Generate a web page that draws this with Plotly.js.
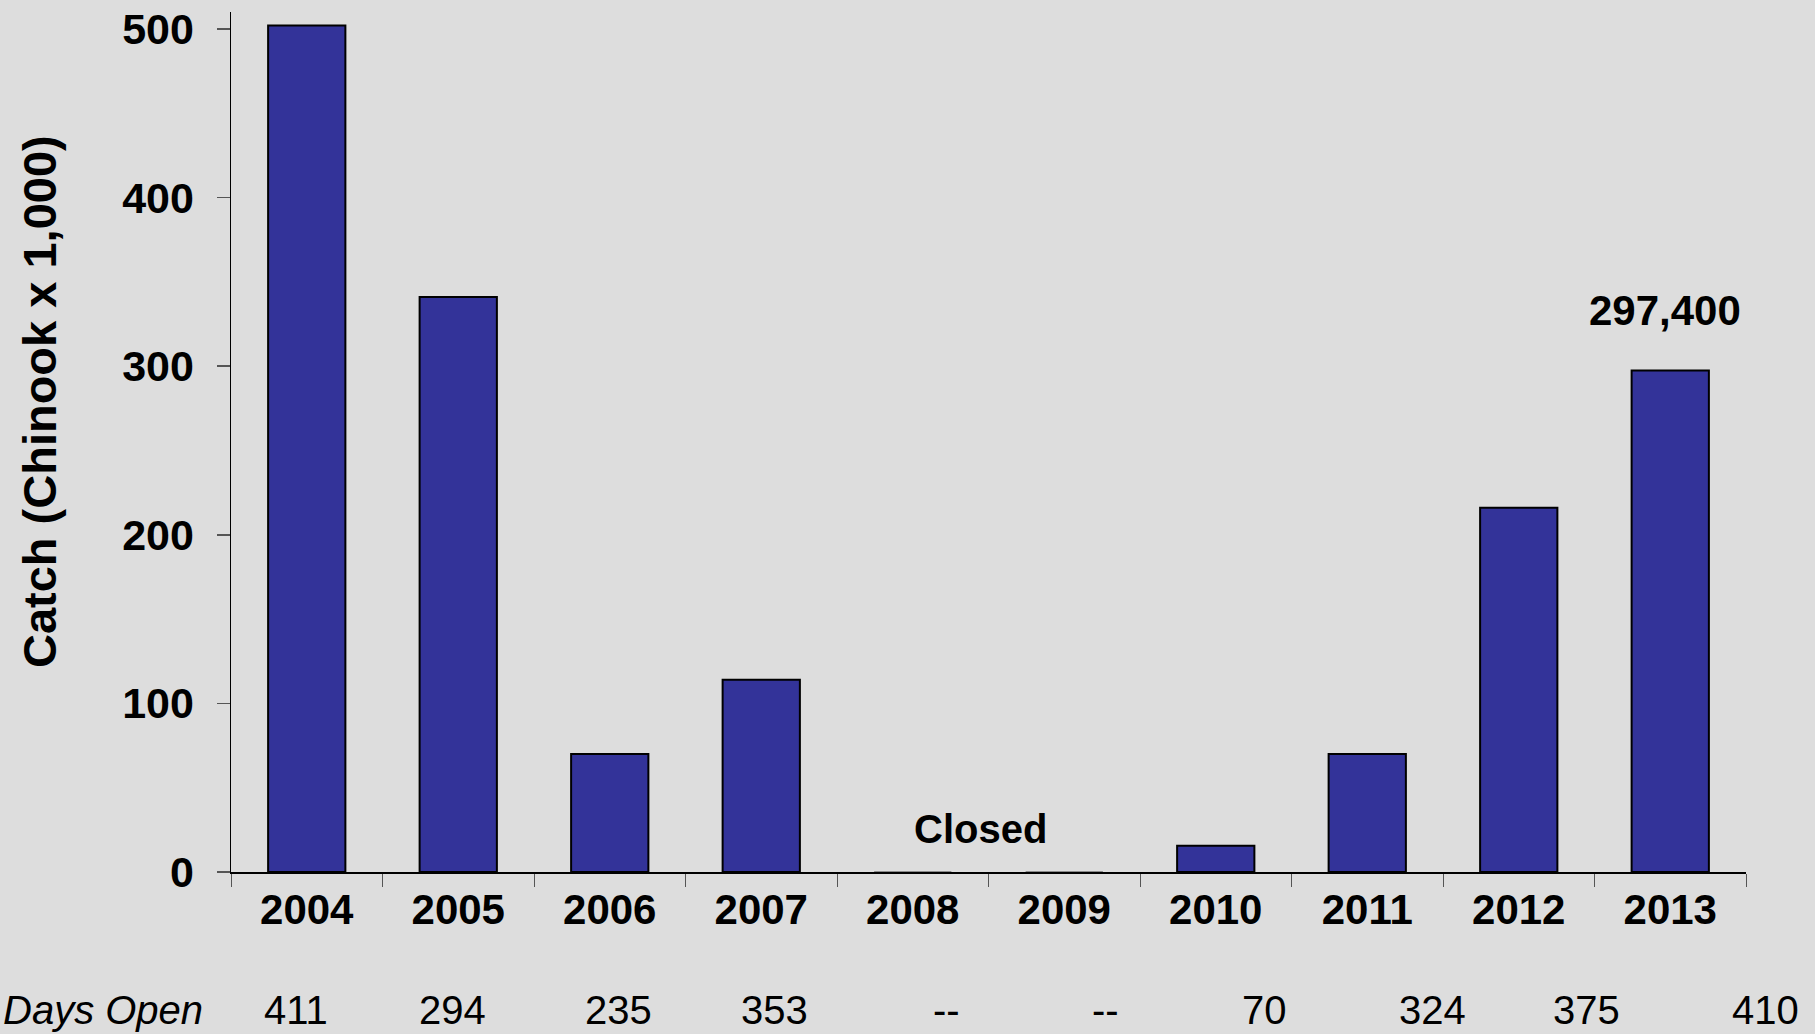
<!DOCTYPE html>
<html>
<head>
<meta charset="utf-8">
<script src="https://cdn.plot.ly/plotly-3.0.1.min.js"></script>
<style>
html,body{margin:0;padding:0;background:#dddddd;}
#chart{width:1815px;height:1034px;}
</style>
</head>
<body>
<div id="chart"></div>
<script>
// Data
const years = ["2004","2005","2006","2007","2008","2009","2010","2011","2012","2013"];
const catchThousands = [502, 341, 70, 114, 0, 0, 15.5, 70, 216, 297.4];
const daysOpen = ["411","294","235","353","--","--","70","324","375","410"];
const daysOpenPos = [-0.07, 0.96, 2.06, 3.09, 4.22, 5.27, 6.32, 7.43, 8.45, 9.63];
const yTicks = [0, 100, 200, 300, 400, 500];

const FONT = "Liberation Sans, Arial, sans-serif";
const nCat = years.length;

const trace = {
  type: "bar",
  x: years,
  y: catchThousands,
  marker: {
    color: "#333399",
    line: { color: catchThousands.map(v => v === 0 ? "#8a8a8a" : "#000000"), width: 2 }
  },
  hoverinfo: "skip"
};

const annotations = [
  {
    x: 4.45, y: 25.5, xref: "x", yref: "y",
    text: "<b>Closed</b>", showarrow: false,
    font: { family: FONT, size: 40, color: "#000" },
    xanchor: "center", yanchor: "middle"
  },
  {
    x: nCat - 1, y: catchThousands[nCat - 1], xref: "x", yref: "y",
    text: "<b>297,400</b>", showarrow: false,
    font: { family: FONT, size: 42, color: "#000" },
    xanchor: "center", yanchor: "middle", yshift: 60, xshift: -5
  },
  {
    x: -0.1267, y: 0.5465, xref: "paper", yref: "paper",
    text: "<b>Catch (Chinook x 1,000)</b>", showarrow: false, textangle: -90,
    font: { family: FONT, size: 47, color: "#000" },
    xanchor: "center", yanchor: "middle"
  },
  {
    x: -0.01716, y: -0.1605, xref: "paper", yref: "paper",
    text: "<i>Days Open</i>", showarrow: false,
    font: { family: FONT, size: 40, color: "#000" },
    xanchor: "right", yanchor: "middle"
  }
];
daysOpen.forEach((d, i) => {
  annotations.push({
    x: (daysOpenPos[i] + 0.5) / nCat, y: -0.1605, xref: "paper", yref: "paper",
    text: d, showarrow: false,
    font: { family: FONT, size: 40, color: "#000" },
    xanchor: "center", yanchor: "middle"
  });
});

const layout = {
  width: 1815, height: 1034,
  paper_bgcolor: "#dddddd", plot_bgcolor: "#dddddd",
  margin: { l: 231, r: 69, t: 12, b: 162 },
  showlegend: false,
  bargap: 0.49,
  font: { family: FONT, color: "#000" },
  xaxis: {
    type: "category",
    showline: true, linecolor: "#000", linewidth: 1.5,
    ticks: "outside", tickson: "boundaries", ticklen: 13, tickcolor: "#555", tickwidth: 1,
    tickfont: { family: FONT, size: 42, color: "#000" },
    showgrid: false, zeroline: false,
    range: [-0.5, 9.5],
    ticklabelstandoff: 0,
    tickprefix: "<b>", ticksuffix: "</b>"
  },
  yaxis: {
    range: [0, 510],
    tickvals: yTicks,
    ticktext: yTicks.map(v => "<b>" + v + "</b>"),
    showline: true, linecolor: "#000", linewidth: 1.5,
    ticks: "outside", ticklen: 13, tickcolor: "#555", tickwidth: 1.5,
    tickfont: { family: FONT, size: 43, color: "#000" },
    showgrid: false, zeroline: false,
    ticklabelstandoff: 14,
    automargin: false
  },
  annotations: annotations
};

Plotly.newPlot("chart", [trace], layout, { displayModeBar: false, staticPlot: true });
</script>
</body>
</html>
